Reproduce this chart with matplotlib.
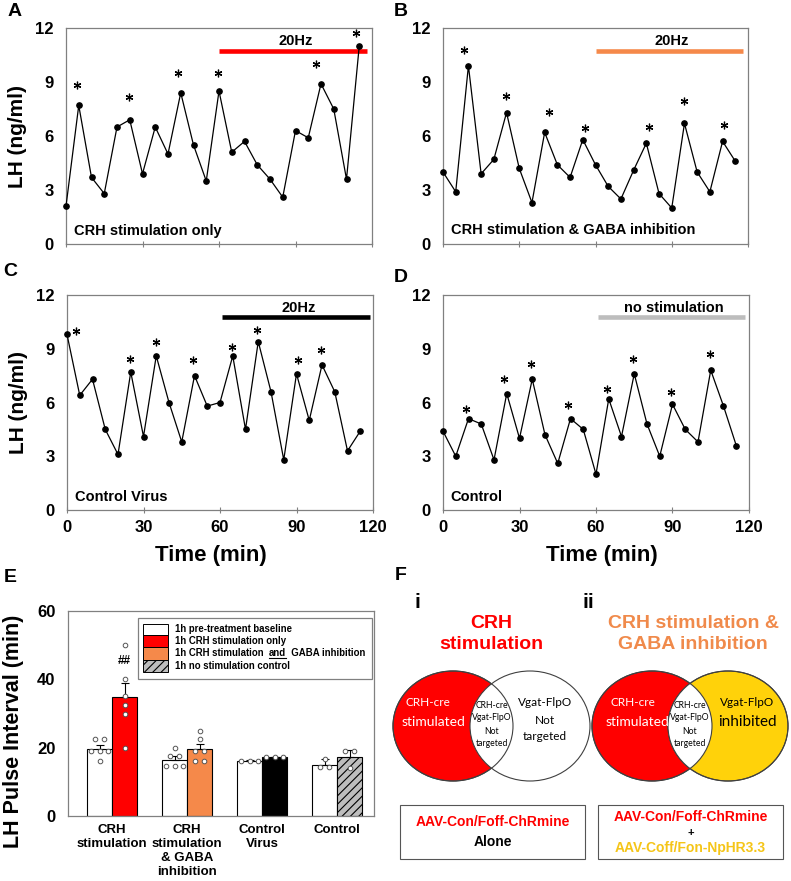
import numpy as np
import matplotlib
matplotlib.use("Agg")
import matplotlib.pyplot as plt
from matplotlib.patches import Rectangle, Ellipse

plt.rcParams['font.family'] = ['Liberation Sans', 'DejaVu Sans']
plt.rcParams['font.weight'] = 'bold'
plt.rcParams['hatch.linewidth'] = 0.8
plt.rcParams['hatch.color'] = '#333333'

# ---------------- data ----------------
time_min = np.arange(0, 120, 5)
lh_crh_only = [2.1, 7.7, 3.7, 2.8, 6.5, 6.9, 3.9, 6.5, 5.0, 8.4, 5.5, 3.5,
               8.5, 5.1, 5.7, 4.4, 3.6, 2.6, 6.3, 5.9, 8.9, 7.5, 3.6, 11.0]
lh_crh_gaba = [4.0, 2.9, 9.9, 3.9, 4.7, 7.3, 4.2, 2.3, 6.2, 4.4, 3.7, 5.8,
               4.4, 3.2, 2.5, 4.1, 5.6, 2.8, 2.0, 6.7, 4.0, 2.9, 5.7, 4.6]
lh_ctrl_virus = [9.8, 6.4, 7.3, 4.5, 3.1, 7.7, 4.1, 8.6, 6.0, 3.8, 7.5, 5.8,
                 6.0, 8.6, 4.5, 9.4, 6.6, 2.8, 7.6, 5.0, 8.1, 6.6, 3.3, 4.4]
lh_control = [4.4, 3.0, 5.1, 4.8, 2.8, 6.5, 4.0, 7.3, 4.2, 2.6, 5.1, 4.5,
              2.0, 6.2, 4.1, 7.6, 4.8, 3.0, 5.9, 4.5, 3.8, 7.8, 5.8, 3.6]

# pulse markers (*): time, LH level
star_t_A = [4.5, 24.9, 44.1, 59.8, 98.2, 113.9]
star_y_A = [8.85, 8.15, 9.5, 9.5, 10.0, 11.7]
star_t_B = [8.1, 24.9, 41.9, 55.8, 81.0, 94.8, 110.5]
star_y_B = [10.8, 8.2, 7.35, 6.45, 6.5, 7.95, 6.6]
star_t_C = [3.7, 24.8, 34.8, 49.4, 64.8, 74.5, 90.5, 99.8]
star_y_C = [10.0, 8.45, 9.35, 8.35, 9.1, 10.05, 8.4, 8.95]
star_t_D = [9.2, 24.0, 34.4, 49.1, 64.3, 74.5, 89.5, 104.7]
star_y_D = [5.65, 7.3, 8.15, 5.85, 6.75, 8.45, 6.6, 8.7]

# panel E
groups = ["CRH\nstimulation", "CRH\nstimulation\n& GABA\ninhibition",
          "Control\nVirus", "Control"]
baseline_mean = [19.5, 16.5, 16.2, 15.0]
baseline_sem = [1.3, 1.1, 0.1, 1.6]
treat_mean = [34.7, 19.5, 17.2, 17.3]
treat_sem = [4.2, 1.6, 0.1, 2.0]
baseline_pts = [[22.5, 22.5, 19.0, 19.0, 19.0, 16.0],
                [20.0, 17.5, 17.5, 14.5, 14.5, 14.5],
                [16.2, 16.2, 16.2],
                [16.6, 14.4, 14.4]]
treat_pts = [[50.0, 40.0, 35.0, 32.5, 30.0, 20.0],
             [25.0, 22.5, 19.0, 19.0, 16.0, 16.0],
             [17.2, 17.2, 17.2],
             [19.0, 19.0, 14.0]]
legend_labels = ["1h pre-treatment baseline", "1h CRH stimulation only",
                 "1h CRH stimulation and GABA inhibition",
                 "1h no stimulation control"]

RED = '#FF0000'
ORANGE = '#F5894A'
GRAY = '#BDBDBD'
YELLOW = '#FFD20A'
SPINE = '#808080'

W, H = 791, 881
fig = plt.figure(figsize=(W / 100, H / 100), dpi=100)


def rect(l, t, r, b):
    return [l / W, 1 - b / H, (r - l) / W, (b - t) / H]


def ts_panel(ax, vals, st, sy, bar, bcolor, btxt, label, ylab, xlabels):
    ax.plot(time_min, vals, '-o', color='black', lw=0.9, ms=3.8, clip_on=False, zorder=3)
    ax.plot(st, sy, ls='none', marker=(6, 2, 0), ms=5.5, mew=0.9, color='black')
    ax.plot([bar[0], bar[1]], [bar[2], bar[2]], color=bcolor, lw=3.3, solid_capstyle='butt')
    ax.text((bar[0] + bar[1]) / 2 + 1, bar[2] + 0.55, btxt, ha='center', va='center',
            fontsize=10.5, fontweight='bold')
    ax.text(3, 0.75, label, ha='left', va='center', fontsize=10.5, fontweight='bold')
    ax.set_xlim(0, 120)
    ax.set_ylim(0, 12)
    ax.set_xticks([0, 30, 60, 90, 120])
    ax.set_yticks([0, 3, 6, 9, 12])
    for s in ax.spines.values():
        s.set_color(SPINE)
        s.set_linewidth(0.9)
    ax.tick_params(axis='x', direction='inout', length=4, color=SPINE, labelsize=12,
                   pad=5, labelbottom=xlabels)
    ax.tick_params(axis='y', length=0, labelsize=12, pad=9)
    for lab in ax.get_xticklabels() + ax.get_yticklabels():
        lab.set_fontweight('bold')
    if ylab:
        ax.set_ylabel("LH (ng/ml)", fontsize=15, fontweight='bold', labelpad=6)


axA = fig.add_axes(rect(66, 28, 372, 244))
axB = fig.add_axes(rect(443, 28, 748, 244))
axC = fig.add_axes(rect(67, 295, 373, 510))
axD = fig.add_axes(rect(443, 295, 749, 510))

ts_panel(axA, lh_crh_only, star_t_A, star_y_A, (60, 118, 10.75), RED, "20Hz",
         "CRH stimulation only", True, False)
ts_panel(axB, lh_crh_gaba, star_t_B, star_y_B, (60, 118, 10.75), ORANGE, "20Hz",
         "CRH stimulation & GABA inhibition", False, False)
ts_panel(axC, lh_ctrl_virus, star_t_C, star_y_C, (60.8, 118.7, 10.75), 'black', "20Hz",
         "Control Virus", True, True)
ts_panel(axD, lh_control, star_t_D, star_y_D, (60.9, 118.4, 10.75), GRAY, "no stimulation",
         "Control", False, True)

# ---------------- panel E ----------------
axE = fig.add_axes(rect(68, 611, 374, 816))
xg = np.arange(1, len(groups) + 1)
bw = 0.333
off = 0.167
treat_colors = [RED, ORANGE, 'black', GRAY]
treat_hatch = [None, None, None, '////']
axE.bar(xg - off, baseline_mean, bw, color='white', edgecolor='black', lw=0.8, zorder=2)
for i in range(len(groups)):
    axE.bar(xg[i] + off, treat_mean[i], bw, color=treat_colors[i], edgecolor='black',
            lw=0.8, hatch=treat_hatch[i], zorder=2)
axE.errorbar(xg - off, baseline_mean, yerr=[np.zeros(4), baseline_sem], fmt='none',
             ecolor='black', elinewidth=0.8, capsize=3, capthick=0.8, zorder=3)
axE.errorbar(xg + off, treat_mean, yerr=[np.zeros(4), treat_sem], fmt='none',
             ecolor='black', elinewidth=0.8, capsize=3, capthick=0.8, zorder=3)


def spread(center, vals, step=0.115):
    vals = np.asarray(vals)
    xs = np.zeros(len(vals))
    for v in np.unique(vals):
        idx = np.where(vals == v)[0]
        n = len(idx)
        xs[idx] = center + (np.arange(n) - (n - 1) / 2) * step
    return xs


for i in range(len(groups)):
    for c, p in ((xg[i] - off, baseline_pts[i]), (xg[i] + off, treat_pts[i])):
        axE.scatter(spread(c, p), p, s=11, facecolor='white', edgecolor='#555555',
                    linewidth=0.7, zorder=4)
axE.text(xg[0] + off, 45.5, "##", ha='center', va='center', fontsize=8.5, fontweight='bold')
axE.set_xlim(0.413, 4.49)
axE.set_ylim(0, 60)
axE.set_yticks([0, 20, 40, 60])
axE.set_xticks(xg)
axE.set_xticklabels(groups, fontsize=9.5, fontweight='bold', linespacing=1.22)
axE.tick_params(axis='x', length=0, pad=6)
axE.tick_params(axis='y', length=0, labelsize=12, pad=9)
for lab in axE.get_yticklabels():
    lab.set_fontweight('bold')
for s in axE.spines.values():
    s.set_color(SPINE)
    s.set_linewidth(0.9)
axE.set_ylabel("LH Pulse Interval (min)", fontsize=15.5, fontweight='bold')
axE.yaxis.set_label_coords(-0.143, 0.415)

# ---------------- overlay (pixel coordinates) ----------------
ov = fig.add_axes([0, 0, 1, 1], zorder=10)
ov.set_xlim(0, W)
ov.set_ylim(H, 0)
ov.axis('off')

for lt, x, y in (("A", 15, 12), ("B", 401, 12), ("C", 10, 272), ("D", 401, 278),
                 ("E", 10, 577), ("F", 401, 575)):
    ov.text(x, y, lt, ha='center', va='center', fontsize=14, fontweight='bold')
ov.text(211, 556, "Time (min)", ha='center', va='center', fontsize=16, fontweight='bold')
ov.text(602, 556, "Time (min)", ha='center', va='center', fontsize=16, fontweight='bold')

# legend of panel E
ov.add_patch(Rectangle((138, 618), 234, 61, facecolor='white', edgecolor=SPINE, lw=0.9))
hand_fc = ['white', RED, ORANGE, GRAY]
hand_h = [None, None, None, '////']
bands = [(624, 635), (635, 647), (647, 660), (660, 672)]
for fc, hh, (y0, y1) in zip(hand_fc, hand_h, bands):
    ov.add_patch(Rectangle((143, y0), 25, y1 - y0, facecolor=fc, edgecolor='black',
                           lw=0.7, hatch=hh))
fig.canvas.draw()
renderer = fig.canvas.get_renderer()
for lab, (y0, y1) in zip(legend_labels, bands):
    yc = (y0 + y1) / 2
    if " and " in lab:
        pre, post = lab.split(" and ")
        t1 = ov.text(175, yc, pre + "  ", ha='left', va='center', fontsize=6.9,
                     fontweight='bold')
        bb = t1.get_window_extent(renderer)
        x2 = bb.x1
        t2 = ov.text(x2, yc, "and", ha='left', va='center', fontsize=6.9, fontweight='bold')
        bb2 = t2.get_window_extent(renderer)
        ov.plot([bb2.x0, bb2.x1], [yc + 4.5, yc + 4.5], color='black', lw=0.8)
        ov.text(bb2.x1, yc, "  " + post, ha='left', va='center', fontsize=6.9,
                fontweight='bold')
    else:
        ov.text(175, yc, lab, ha='left', va='center', fontsize=6.9, fontweight='bold')

# ---------------- panel F (Venn diagrams) ----------------
ov.text(417, 603, "i", ha='center', va='center', fontsize=15, fontweight='bold')
ov.text(588, 603, "ii", ha='center', va='center', fontsize=15, fontweight='bold')
ov.text(491, 634, "CRH\nstimulation", ha='center', va='center', fontsize=14,
        fontweight='bold', color=RED, linespacing=1.3)
ov.text(693, 634, "CRH stimulation &\nGABA inhibition", ha='center', va='center',
        fontsize=14, fontweight='bold', color='#F08A4B', linespacing=1.3)

EDGE = '#404040'
VW, VH = 120, 110
cy = 726
# left Venn
ov.add_patch(Ellipse((453, cy), VW, VH, facecolor=RED, edgecolor=EDGE, lw=0.8))
ov.add_patch(Ellipse((530, cy), VW, VH, facecolor='white', edgecolor=EDGE, lw=0.8))
ov.add_patch(Ellipse((453, cy), VW, VH, facecolor='none', edgecolor=EDGE, lw=0.8))
# right Venn
ov.add_patch(Ellipse((652, cy), VW, VH, facecolor=RED, edgecolor=EDGE, lw=0.8))
yel = Ellipse((728, cy), VW, VH, facecolor=YELLOW, edgecolor=EDGE, lw=0.8)
ov.add_patch(yel)
lens = Ellipse((652, cy), VW, VH, facecolor='white', edgecolor='none')
ov.add_patch(lens)
lens.set_clip_path(yel)
ov.add_patch(Ellipse((652, cy), VW, VH, facecolor='none', edgecolor=EDGE, lw=0.8))
ov.add_patch(Ellipse((728, cy), VW, VH, facecolor='none', edgecolor=EDGE, lw=0.8))

VF = ['Lato', 'DejaVu Sans']
for cx_red, cx_lens, cx_right, right_l2 in (
        (428, 492, 545, ("Not", "targeted")),
        (633, 690, 747, ("inhibited",))):
    ov.text(cx_red, 703, "CRH-cre", ha='center', va='center', fontsize=8.5,
            color='white', family=VF, fontweight='normal')
    ov.text(cx_red + 5, 722, "stimulated", ha='center', va='center', fontsize=10,
            color='white', family=VF, fontweight='normal')
    for txt, yy in (("CRH-cre", 705), ("Vgat-FlpO", 717), ("Not", 732), ("targeted", 744)):
        ov.text(cx_lens, yy, txt, ha='center', va='center', fontsize=6.2, family=VF,
                fontweight='normal', color='black')
    ov.text(cx_right, 702, "Vgat-FlpO", ha='center', va='center', fontsize=8.5,
            family=VF, fontweight='normal')
    if len(right_l2) == 2:
        ov.text(cx_right, 721, right_l2[0], ha='center', va='center', fontsize=8.5,
                family=VF, fontweight='normal')
        ov.text(cx_right, 737, right_l2[1], ha='center', va='center', fontsize=8.5,
                family=VF, fontweight='normal')
    else:
        ov.text(cx_right, 722, right_l2[0], ha='center', va='center', fontsize=11,
                family=VF, fontweight='normal')

# vector boxes
ov.add_patch(Rectangle((400, 805), 185, 54, facecolor='white', edgecolor='#555555', lw=0.8))
ov.add_patch(Rectangle((598, 805), 185, 54, facecolor='white', edgecolor='#555555', lw=0.8))
ov.text(492.5, 822, "AAV-Con/Foff-ChRmine", ha='center', va='center', fontsize=10,
        fontweight='bold', color=RED)
ov.text(492.5, 842, "Alone", ha='center', va='center', fontsize=10, fontweight='bold')
ov.text(690.5, 817, "AAV-Con/Foff-ChRmine", ha='center', va='center', fontsize=10,
        fontweight='bold', color=RED)
ov.text(690.5, 833, "+", ha='center', va='center', fontsize=8, fontweight='bold')
ov.text(690.5, 848, "AAV-Coff/Fon-NpHR3.3", ha='center', va='center', fontsize=10,
        fontweight='bold', color='#F5C518')

fig.savefig("out.png", dpi=100)
